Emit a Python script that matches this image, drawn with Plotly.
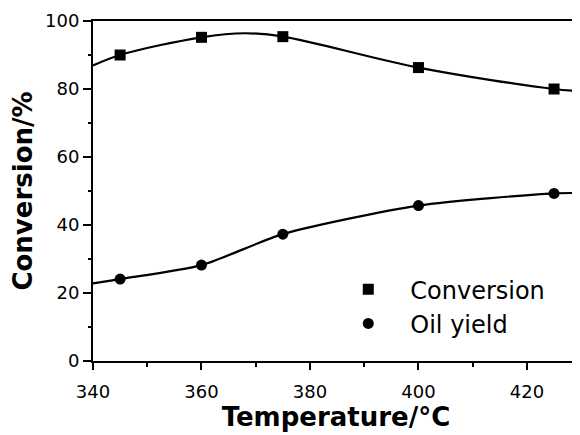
import plotly.graph_objects as go

# Measured data points
temperature = [345, 360, 375, 400, 425]
conversion = [90.0, 95.2, 95.4, 86.3, 80.0]
oil_yield = [24.1, 28.2, 37.3, 45.7, 49.3]

# Smooth fitted curves
conv_curve_x = [340, 345, 360, 368, 375, 400, 425, 430]
conv_curve_y = [86.9, 90.0, 95.2, 96.4, 95.4, 86.3, 80.0, 79.4]
oil_curve_x = [340, 345, 360, 375, 400, 425, 430]
oil_curve_y = [22.8, 24.1, 28.2, 37.3, 45.7, 49.3, 49.4]

x_ticks = [340, 360, 380, 400, 420]
y_ticks = [0, 20, 40, 60, 80, 100]

fig = go.Figure()
fig.add_trace(go.Scatter(x=conv_curve_x, y=conv_curve_y, mode="lines",
                         line=dict(color="black", width=2.2, shape="spline", smoothing=1.0),
                         showlegend=False, hoverinfo="skip"))
fig.add_trace(go.Scatter(x=oil_curve_x, y=oil_curve_y, mode="lines",
                         line=dict(color="black", width=2.2, shape="spline", smoothing=0.7),
                         showlegend=False, hoverinfo="skip"))
fig.add_trace(go.Scatter(x=temperature, y=conversion, mode="markers", name="Conversion",
                         marker=dict(symbol="square", size=11, color="black")))
fig.add_trace(go.Scatter(x=temperature, y=oil_yield, mode="markers", name="Oil yield",
                         marker=dict(symbol="circle", size=11, color="black")))

axis_font = dict(family="DejaVu Sans", size=18, color="black")
fig.update_layout(
    width=572, height=427,
    margin=dict(l=85, r=1, t=13, b=74),
    paper_bgcolor="white", plot_bgcolor="white",
    font=dict(family="DejaVu Sans", color="black"),
    showlegend=True,
    legend=dict(x=0.48, y=0.276, xanchor="left", yanchor="top",
                font=dict(family="DejaVu Sans", size=24, color="black"),
                bgcolor="rgba(0,0,0,0)", itemwidth=74, tracegroupgap=0),
    xaxis=dict(range=[340, 429.6], tickvals=x_ticks, ticktext=[str(v) for v in x_ticks],
               automargin=False,
               showgrid=False, zeroline=False, showline=True, linecolor="black", linewidth=2,
               mirror=True, ticks="outside", ticklen=7, tickwidth=2, tickcolor="black",
               minor=dict(dtick=10, ticks="outside", ticklen=4, tickwidth=2, tickcolor="black"),
               tickfont=axis_font, ticklabelstandoff=6,
               title=dict(text="Temperature/°C", standoff=1,
                          font=dict(family="DejaVu Sans", size=26, color="black", weight="bold"))),
    yaxis=dict(range=[0, 100], tickvals=y_ticks, ticktext=[str(v) for v in y_ticks],
               automargin=False,
               showgrid=False, zeroline=False, showline=True, linecolor="black", linewidth=2,
               mirror=True, ticks="outside", ticklen=8, tickwidth=2, tickcolor="black",
               minor=dict(dtick=10, ticks="outside", ticklen=3, tickwidth=2, tickcolor="black"),
               tickfont=axis_font,
               title=dict(text="Conversion/%", standoff=13,
                          font=dict(family="DejaVu Sans", size=26, color="black", weight="bold"))),
)

fig.write_html("out.html")
